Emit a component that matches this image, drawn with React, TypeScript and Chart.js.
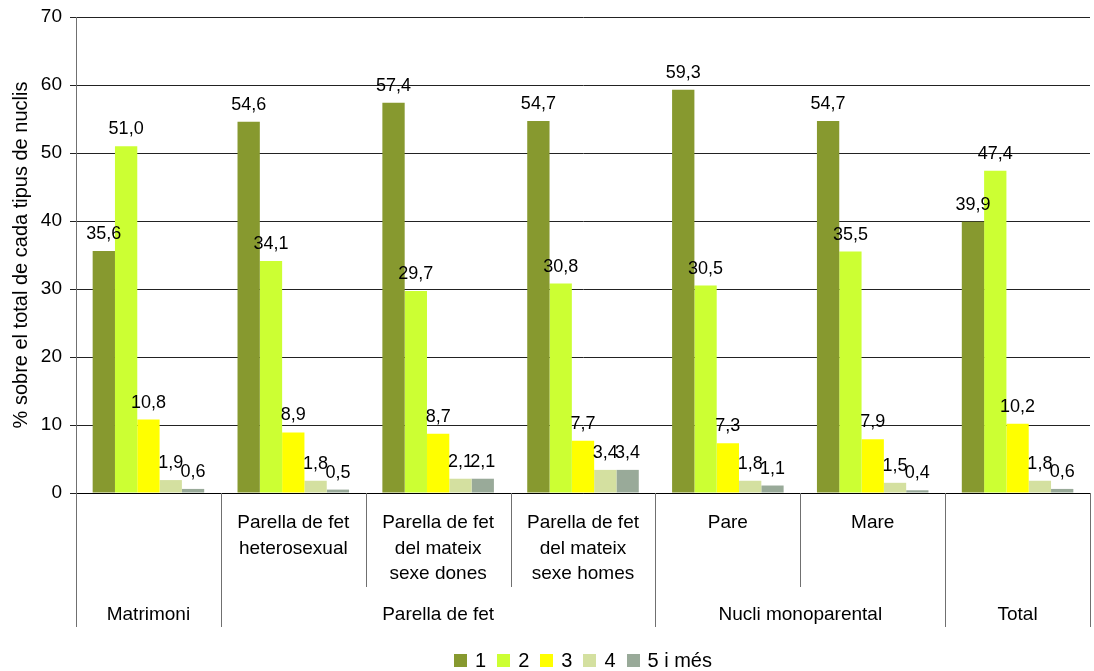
import React, { useEffect, useRef } from "react";
import { Chart, registerables } from "chart.js";

Chart.register(...registerables);

const categories = [
  "Matrimoni",
  "Parella de fet heterosexual",
  "Parella de fet del mateix sexe dones",
  "Parella de fet del mateix sexe homes",
  "Pare",
  "Mare",
  "Total",
];
const subLabels: string[][] = [
  [],
  ["Parella de fet", "heterosexual"],
  ["Parella de fet", "del mateix", "sexe dones"],
  ["Parella de fet", "del mateix", "sexe homes"],
  ["Pare"],
  ["Mare"],
  [],
];
const groupLabels = ["Matrimoni", "Parella de fet", "Nucli monoparental", "Total"];
const groupSpans = [1, 3, 2, 1];

const seriesNames = ["1", "2", "3", "4", "5 i més"];
const serie1 = [35.6, 54.6, 57.4, 54.7, 59.3, 54.7, 39.9];
const serie2 = [51.0, 34.1, 29.7, 30.8, 30.5, 35.5, 47.4];
const serie3 = [10.8, 8.9, 8.7, 7.7, 7.3, 7.9, 10.2];
const serie4 = [1.9, 1.8, 2.1, 3.4, 1.8, 1.5, 1.8];
const serie5 = [0.6, 0.5, 2.1, 3.4, 1.1, 0.4, 0.6];
const seriesColors = ["#87992F", "#CCFF33", "#FFFF00", "#D4E0A0", "#99AA99"];

const yMin = 0;
const yMax = 70;
const yStep = 10;
const yTitle = "% sobre el total de cada tipus de nuclis";

const FONT = '"Liberation Sans", Arial, sans-serif';

const fmt = (v: number) => v.toFixed(1).replace(".", ",");

const valueLabelPlugin = {
  id: "valueLabels",
  afterDatasetsDraw(chart: any) {
    const ctx = chart.ctx;
    ctx.save();
    ctx.font = `18px ${FONT}`;
    ctx.fillStyle = "#000";
    ctx.textAlign = "center";
    ctx.textBaseline = "alphabetic";
    chart.data.datasets.forEach((ds: any, di: number) => {
      const meta = chart.getDatasetMeta(di);
      meta.data.forEach((bar: any, i: number) => {
        const v = ds.data[i];
        ctx.fillText(fmt(v), bar.x, bar.y - 12);
      });
    });
    ctx.restore();
  },
};

const multiAxisPlugin = {
  id: "multiAxis",
  afterDraw(chart: any) {
    const ctx = chart.ctx;
    const x = chart.scales.x;
    const bottom = chart.chartArea.bottom;
    const n = categories.length;
    const cw = (x.right - x.left) / n;
    const edges = new Set<number>([0]);
    let acc = 0;
    groupSpans.forEach((s) => {
      acc += s;
      edges.add(acc);
    });
    ctx.save();
    ctx.strokeStyle = "#707070";
    ctx.lineWidth = 1;
    for (let i = 0; i <= n; i++) {
      const px = Math.round(x.left + i * cw) + 0.5;
      const len = edges.has(i) ? 134 : 94;
      ctx.beginPath();
      ctx.moveTo(px, bottom);
      ctx.lineTo(px, bottom + len);
      ctx.stroke();
    }
    ctx.fillStyle = "#000";
    ctx.font = `19px ${FONT}`;
    ctx.textAlign = "center";
    ctx.textBaseline = "middle";
    subLabels.forEach((lines, i) => {
      const cx = x.getPixelForValue(i);
      lines.forEach((t, k) => ctx.fillText(t, cx, bottom + 30 + k * 25.5));
    });
    acc = 0;
    groupSpans.forEach((s, g) => {
      const cx = x.left + (acc + s / 2) * cw;
      ctx.fillText(groupLabels[g], cx, bottom + 122);
      acc += s;
    });

    // legend
    ctx.font = `20px ${FONT}`;
    ctx.textAlign = "left";
    const box = 13;
    const gapText = 8;
    const gapItem = 11;
    const widths = seriesNames.map((t) => box + gapText + ctx.measureText(t).width);
    const total = widths.reduce((a, b) => a + b, 0) + gapItem * (widths.length - 1);
    const center = (chart.chartArea.left + chart.chartArea.right) / 2;
    let lx = center - total / 2;
    const ly = 660.5;
    seriesNames.forEach((t, i) => {
      ctx.fillStyle = seriesColors[i];
      ctx.fillRect(Math.round(lx), Math.round(ly - box / 2), box, box);
      ctx.fillStyle = "#000";
      ctx.fillText(t, lx + box + gapText, ly + 1);
      lx += widths[i] + gapItem;
    });
    ctx.restore();
  },
};

export default function App() {
  const canvasRef = useRef<HTMLCanvasElement | null>(null);

  useEffect(() => {
    if (!canvasRef.current) return;
    const allSeries = [serie1, serie2, serie3, serie4, serie5];
    const chart = new Chart(canvasRef.current, {
      type: "bar",
      data: {
        labels: categories,
        datasets: allSeries.map((d, i) => ({
          label: seriesNames[i],
          data: d,
          backgroundColor: seriesColors[i],
          borderWidth: 0,
          categoryPercentage: 0.77,
          barPercentage: 1.0,
        })),
      },
      options: {
        responsive: false,
        animation: false,
        events: [],
        layout: { padding: { top: 17, right: 4, left: 0, bottom: 0 } },
        plugins: {
          legend: { display: false },
          tooltip: { enabled: false },
        },
        scales: {
          x: {
            offset: true,
            grid: { display: false },
            border: { display: true, color: "#000", width: 1 },
            ticks: { display: false },
            afterFit: (scale: any) => {
              scale.height = 178;
              scale.paddingLeft = 0;
              scale.paddingRight = 0;
            },
          },
          y: {
            min: yMin,
            max: yMax,
            ticks: {
              stepSize: yStep,
              padding: 8,
              color: "#000",
              font: { family: FONT, size: 19 },
            },
            grid: { color: "#222", lineWidth: 1, tickLength: 6, drawTicks: true },
            border: { display: true, color: "#707070", width: 1 },
            title: {
              display: true,
              text: yTitle,
              color: "#000",
              font: { family: FONT, size: 20 },
              padding: { top: 9, bottom: 0 },
            },
            afterFit: (scale: any) => {
              scale.width = 76;
              scale.paddingTop = 0;
              scale.paddingBottom = 0;
            },
          },
        },
      },
      plugins: [valueLabelPlugin, multiAxisPlugin],
    });
    return () => chart.destroy();
  }, []);

  return (
    <div style={{ position: "absolute", left: 0, top: 0, width: 1094, height: 671, background: "#fff" }}>
      <canvas ref={canvasRef} width={1094} height={671} />
    </div>
  );
}
